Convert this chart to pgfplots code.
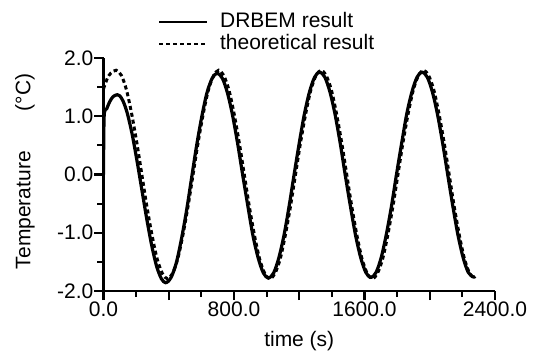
\documentclass[border=0pt]{standalone}
\usepackage{pgfplots}
\pgfplotsset{compat=1.18}
\usepackage{fontspec}
\setmainfont{Liberation Sans}
\newcommand{\ff}{\fontsize{21bp}{24bp}\selectfont}
\pgfplotstableread{
t y
0 0.00
4 1.00
20 1.13
40 1.26
60 1.34
85 1.37
100 1.35
120 1.26
145 1.06
175 0.70
205 0.24
235 -0.26
265 -0.76
295 -1.21
325 -1.57
355 -1.79
383 -1.86
414 -1.77
446 -1.52
477 -1.12
509 -0.62
540 -0.06
571 0.50
603 1.00
634 1.40
666 1.65
697 1.74
729 1.65
760 1.40
791 1.02
823 0.52
854 -0.02
886 -0.56
917 -1.06
949 -1.44
980 -1.69
1011 -1.78
1043 -1.69
1074 -1.44
1106 -1.05
1137 -0.56
1168 -0.01
1200 0.54
1231 1.03
1263 1.42
1294 1.67
1325 1.76
1357 1.67
1388 1.42
1419 1.04
1451 0.54
1482 -0.01
1514 -0.55
1545 -1.04
1577 -1.43
1608 -1.68
1639 -1.77
1671 -1.68
1702 -1.43
1733 -1.04
1765 -0.55
1796 0.00
1828 0.54
1859 1.04
1891 1.42
1922 1.67
1953 1.76
1985 1.67
2016 1.42
2047 1.04
2079 0.54
2110 0.00
2142 -0.55
2173 -1.04
2205 -1.43
2236 -1.68
2267 -1.76
2279 -1.75
}\drbem
\pgfplotstableread{
t y
0 1.47
10 1.55
25 1.66
45 1.74
78 1.79
110 1.70
141 1.45
172 1.05
204 0.55
235 0.00
266 -0.55
298 -1.05
329 -1.45
361 -1.70
392 -1.79
423 -1.70
455 -1.45
486 -1.05
518 -0.55
549 0.00
580 0.55
612 1.05
643 1.45
675 1.70
706 1.79
737 1.70
769 1.45
800 1.05
832 0.55
863 0.00
894 -0.55
926 -1.05
957 -1.45
989 -1.70
1020 -1.79
1051 -1.70
1083 -1.45
1114 -1.05
1146 -0.55
1177 0.00
1208 0.55
1240 1.05
1271 1.45
1303 1.70
1334 1.79
1365 1.70
1397 1.45
1428 1.05
1460 0.55
1491 0.00
1522 -0.55
1554 -1.05
1585 -1.45
1617 -1.70
1648 -1.79
1679 -1.70
1711 -1.45
1742 -1.05
1774 -0.55
1805 0.00
1836 0.55
1868 1.05
1899 1.45
1931 1.70
1962 1.79
1993 1.70
2025 1.45
2056 1.05
2088 0.55
2119 0.00
2150 -0.55
2182 -1.05
2213 -1.45
2245 -1.70
2276 -1.79
}\theory
\begin{document}
\ff
\begin{tikzpicture}
\useasboundingbox (0,0) rectangle (540bp,360bp);
\begin{axis}[
  at={(103.5bp,69bp)}, anchor=south west,
  scale only axis, width=391.5bp, height=233bp,
  xmin=0, xmax=2400, ymin=-2, ymax=2,
  axis x line*=bottom, axis y line*=left,
  axis line style={-, line width=2.4bp},
  tick align=outside,
  major tick length=9bp, minor tick length=6bp,
  every tick/.style={black, line width=2.2bp},
  xtick={0,400,...,2400},
  xticklabels={0.0,,800.0,,1600.0,,2400.0},
  minor xtick={200,600,...,2200},
  ytick={-2,-1,0,1,2},
  yticklabels={-2.0,-1.0,0.0,1.0,2.0},
  minor ytick={-1.5,-0.5,0.5,1.5},
  tick label style={font=\ff},
  xticklabel style={inner sep=2bp},
  yticklabel style={inner sep=1bp},
  xlabel={time (s)},
  xlabel style={font=\ff, at={(axis description cs:0.5,-0.240)}, anchor=base},
  ylabel={Temperature\hspace*{40bp}(°C)},
  ylabel style={font=\ff, at={(axis description cs:-0.2005,0.513)}, anchor=center},
  legend style={at={(axis description cs:0.139,1.2017)}, anchor=north west,
    draw=none, fill=none, inner sep=0pt, row sep=1bp, column sep=12bp,
    font=\ff, nodes={inner sep=0pt, text height=16bp, text depth=5bp}},
  legend cell align=left,
  legend image code/.code={\draw[#1, line width=2bp] (0bp,0bp) -- (48bp,0bp);},
]
\addplot[black, line width=3.2bp, smooth, line join=round] table[x=t,y=y] {\drbem};
\addlegendentry{DRBEM result}
\addplot[black, line width=3bp, smooth, dash pattern=on 4bp off 3bp] table[x=t,y=y] {\theory};
\addlegendentry{theoretical result}
\end{axis}
\end{tikzpicture}
\end{document}
